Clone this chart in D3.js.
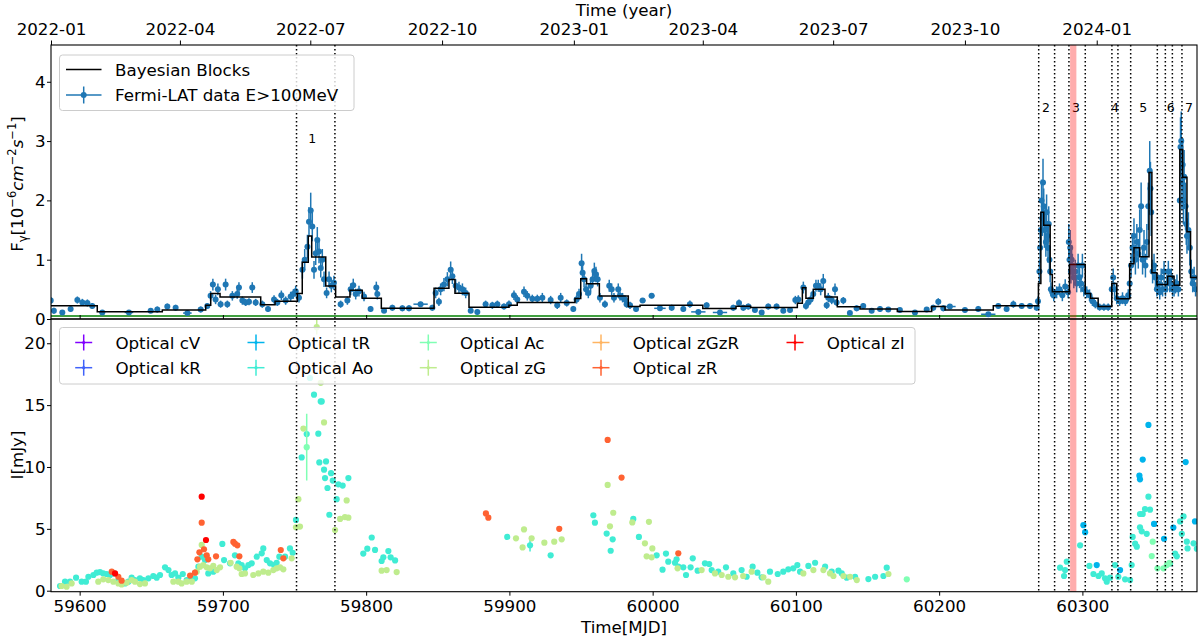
<!DOCTYPE html>
<html><head><meta charset="utf-8">
<script src="https://cdn.jsdelivr.net/npm/d3@7"></script>
<style>body{margin:0;background:#fff}text{font-family:"DejaVu Sans",sans-serif;fill:#000}</style>
</head><body><svg id="c" width="1200" height="638"></svg>
<script>
// ---------- DATA ----------
const xDomain = [59580, 60380];
const fluxTicks = [0, 1, 2, 3, 4];
const optTicks = [0, 5, 10, 15, 20];
const mjdTicks = [59600, 59700, 59800, 59900, 60000, 60100, 60200, 60300];
const yearTickDates = ["2022-01-01","2022-04-01","2022-07-01","2022-10-01","2023-01-01","2023-04-01","2023-07-01","2023-10-01","2024-01-01"];
const flareLines = [59751.4, 59778.2, 60269.5, 60280.6, 60290.6, 60302, 60320.6, 60324.8, 60333.7, 60352.3, 60357.9, 60362.8, 60369.5];
const flareBand = [60291.4, 60295.8];
const flareLabels = [["1",59762.3,3.05],["2",60274.6,3.56],["3",60295.5,3.56],["4",60322.7,3.56],["5",60342.4,3.56],["6",60361.6,3.56],["7",60374.4,3.56]];
const baselineFlux = 0.05;
// Fermi-LAT: [MJD, flux, err, xerr(days)]
const fermi = [
[59579.8,0.31,0.06],[59582,0.14,0.05],[59587.9,0.11,0.04],[59593.7,0.17,0.05],[59598.4,0.32,0.06],[59601.9,0.28,0.06],[59605.4,0.27,0.06],[59608.8,0.22,0.05],[59615.8,0.11,0.04,2],[59634.4,0.11,0.04,3],[59649.6,0.14,0.04,2],[59654.2,0.16,0.05],[59661.2,0.21,0.05],[59667,0.19,0.05],[59675.2,0.10,0.04,3],[59684.5,0.16,0.05],[59689.1,0.22,0.05],[59691.4,0.39,0.08],[59693,0.58,0.1],[59694.9,0.33,0.08],[59696.5,0.5,0.1],[59698.4,0.25,0.06],[59701.9,0.58,0.1],[59703.1,0.25,0.06],[59706.6,0.39,0.08],[59710,0.42,0.08],[59711.2,0.53,0.09],[59713.6,0.31,0.07],[59715.9,0.28,0.06],[59718.2,0.29,0.06],[59720.5,0.53,0.09],[59722.9,0.28,0.06],[59727.5,0.25,0.06],[59731.5,0.17,0.05],[59735.7,0.33,0.07],[59738,0.28,0.06],[59740.8,0.4,0.08],[59743.8,0.31,0.07],[59747.3,0.38,0.08],[59749.2,0.42,0.08],[59750.8,0.47,0.09],[59753.1,0.36,0.08],[59755.5,0.83,0.15],[59757.1,1.0,0.18],[59759,1.22,0.2],[59760.1,1.64,0.25],[59761.3,1.83,0.3],[59762.4,1.56,0.25],[59763.6,0.83,0.15],[59764.8,1.11,0.2],[59765.9,1.33,0.22],[59767.1,1.14,0.2],[59768.3,0.86,0.16],[59769.4,1.0,0.18],[59770.6,0.67,0.13],[59772.4,0.44,0.09],[59774.1,0.67,0.13],[59775.7,0.56,0.11],[59777.5,0.61,0.12],[59782.2,0.25,0.06],[59786.9,0.31,0.07],[59789.2,0.5,0.1],[59791,0.57,0.11],[59792.7,0.42,0.09],[59795,0.47,0.09],[59798.5,0.38,0.08],[59803.1,0.17,0.05],[59807.1,0.53,0.1],[59807.8,0.42,0.09],[59812.5,0.14,0.04],[59818.3,0.19,0.05],[59825.3,0.18,0.05],[59829.9,0.18,0.05],[59838,0.25,0.04,5],[59846.2,0.19,0.05],[59848.5,0.44,0.09],[59850.8,0.29,0.07],[59852,0.5,0.1],[59854.3,0.58,0.11],[59856.7,0.67,0.12],[59859,0.83,0.14],[59860.2,0.72,0.13],[59862.5,0.56,0.11],[59864.8,0.53,0.1],[59867.2,0.5,0.1],[59869.5,0.44,0.09],[59873,0.14,0.04],[59877.6,0.12,0.04],[59883.4,0.25,0.06],[59888.1,0.23,0.06],[59891.6,0.25,0.06],[59896.2,0.21,0.05],[59899.7,0.25,0.06],[59903.2,0.4,0.08],[59905.5,0.33,0.07],[59910.2,0.46,0.09],[59912.5,0.39,0.08],[59916,0.34,0.07],[59919.5,0.34,0.07],[59923,0.36,0.08],[59928.8,0.32,0.07],[59933.4,0.23,0.06],[59935.8,0.36,0.08],[59940,0.27,0.06],[59944.6,0.17,0.05],[59946.9,0.33,0.07],[59948.6,0.42,0.09],[59950.4,0.94,0.16],[59951.1,0.78,0.14],[59952.1,0.67,0.13],[59953.5,0.5,0.1],[59955.1,0.44,0.09],[59956.7,0.56,0.11],[59958.1,0.67,0.12],[59959.3,0.81,0.14],[59960.4,0.75,0.13],[59961.6,0.67,0.12],[59963.2,0.36,0.08],[59966.7,0.25,0.06],[59969.7,0.56,0.1],[59971.4,0.5,0.1],[59973,0.36,0.08],[59976,0.5,0.1],[59977.2,0.39,0.08],[59979,0.36,0.08],[59980.7,0.33,0.07],[59981.8,0.25,0.06],[59984.2,0.23,0.06],[59988.4,0.17,0.05],[59993,0.31,0.04,2],[59999.3,0.39,0.04,2],[60005.1,0.18,0.04,4],[60013.3,0.19,0.05],[60021.4,0.17,0.05],[60026,0.25,0.06],[60031.9,0.12,0.03,5],[60037.7,0.23,0.05],[60047,0.11,0.03,5],[60056.3,0.19,0.05],[60060.3,0.27,0.06],[60063.3,0.19,0.05],[60066.8,0.21,0.05],[60071.4,0.15,0.04],[60076.1,0.11,0.04],[60080.7,0.21,0.05],[60086.5,0.21,0.05],[60091.2,0.14,0.04],[60095.9,0.15,0.04],[60099.6,0.32,0.07],[60101.7,0.33,0.07],[60105.2,0.53,0.1],[60107,0.22,0.06],[60108.6,0.28,0.06],[60110.3,0.33,0.07],[60112.1,0.42,0.08],[60114,0.56,0.1],[60115.6,0.56,0.1],[60117.3,0.5,0.1],[60119.1,0.64,0.12],[60121.5,0.23,0.06],[60122.6,0.36,0.08],[60125,0.32,0.07],[60127.3,0.5,0.1],[60128.4,0.28,0.06],[60133.1,0.31,0.06],[60137.7,0.1,0.04],[60142.4,0.18,0.05],[60147,0.22,0.05],[60152.9,0.14,0.04],[60158.7,0.17,0.05],[60164.5,0.16,0.04],[60172.6,0.15,0.04],[60183.1,0.11,0.04],[60191.3,0.16,0.04],[60195.9,0.19,0.05],[60199.4,0.29,0.06],[60202.9,0.18,0.05],[60207.5,0.21,0.04,4],[60218,0.15,0.04],[60227.3,0.17,0.05],[60234.3,0.08,0.03,5],[60241.3,0.22,0.05],[60247.1,0.17,0.05],[60251.8,0.25,0.06],[60257.6,0.22,0.05],[60263.4,0.22,0.05],[60268.1,0.19,0.05],
[60269,0.3,0.08],[60270,0.8,0.2],[60270.5,1.2,0.25],[60271,1.5,0.3],[60271.5,2.0,0.35],[60272,1.7,0.3],[60272.5,2.3,0.4],[60273,1.9,0.3],[60273.5,1.5,0.3],[60274,1.6,0.3],[60274.5,1.3,0.25],[60275,1.8,0.3],[60275.5,1.4,0.25],[60276,1.2,0.25],[60276.5,1.6,0.3],[60277,1.0,0.2],[60277.5,0.8,0.18],[60278,0.5,0.12],[60279,0.45,0.1],[60280,0.4,0.1],
[60282,0.45,0.1],[60284,0.5,0.1],[60286,0.4,0.1],[60288,0.55,0.12],[60290,0.45,0.1],
[60290.5,1.3,0.3],[60291,1.0,0.25],[60291.5,1.2,0.3],[60292,0.8,0.2],[60292.5,1.0,0.25],[60293,0.9,0.2],[60294,0.7,0.18],[60295,0.8,0.2],[60296,0.6,0.15],[60297,0.9,0.2],[60298,0.7,0.18],[60299,0.6,0.15],[60300,0.9,0.2],[60301,0.5,0.12],
[60303,0.45,0.1],[60305,0.4,0.1],[60307,0.3,0.08],[60309,0.25,0.07],[60312,0.2,0.06],[60315,0.2,0.06],[60318,0.2,0.06],
[60320.5,0.5,0.12],[60321.5,0.7,0.15],[60322.5,0.5,0.12],[60324,0.35,0.1],[60326,0.3,0.08],[60328,0.35,0.1],[60330,0.3,0.08],[60332,0.4,0.1],
[60333,0.6,0.15],[60334,0.9,0.2],[60335,1.2,0.25],[60336,1.4,0.3],[60337,1.0,0.25],[60338,1.3,0.3],[60339,1.1,0.25],[60340,1.5,0.35],[60341,1.9,0.4],[60342,1.0,0.25],[60343,1.2,0.3],[60344,0.9,0.2],[60345,1.3,0.3],[60346,1.9,0.4],[60347,2.5,0.5],[60347.5,2.2,0.45],[60348,1.8,0.4],[60349,0.8,0.2],[60350,0.9,0.2],[60351,0.7,0.18],
[60352,0.5,0.12],[60353,0.6,0.15],[60354,0.45,0.12],[60355,0.7,0.15],[60356,0.5,0.12],[60357,0.8,0.18],[60358,0.5,0.12],[60359,0.6,0.15],[60360,0.8,0.18],[60361,0.6,0.15],[60362,0.7,0.15],[60363,0.5,0.12],[60364,0.5,0.12],[60365,0.55,0.12],[60366,0.6,0.15],[60367,0.5,0.12],
[60368,2.0,0.4],[60368.5,2.9,0.5],[60369,3.0,0.5],[60369.5,2.3,0.45],[60370,2.6,0.45],[60370.5,2.0,0.4],[60371,2.4,0.45],[60372,1.9,0.4],[60372.5,1.6,0.35],[60373,1.4,0.3],[60374,1.5,0.3],[60375,1.2,0.3],[60376,0.8,0.2],[60377,0.6,0.15],[60378,0.7,0.18],[60379,0.5,0.12]
];
// Bayesian blocks: edges (MJD) and levels
const bbEdges = [59580,59612.3,59657.7,59688,59691.5,59698,59726.4,59736.4,59752,59755.4,59759.6,59762,59771.8,59778.7,59788.7,59797.3,59810.6,59847.4,59857.8,59862,59871.8,59899.7,59905.5,59945.8,59949.8,59953.9,59962.8,59983,59991.2,60035,60058.2,60068.4,60101,60104.5,60107,60112.2,60120.3,60128.9,60144.8,60170.8,60194.8,60204.1,60237.8,60269.3,60271,60273,60277.5,60279,60291,60302,60305.7,60311,60320.5,60324,60333,60336,60340,60346.5,60348.5,60352,60359.5,60364,60368,60370,60373,60375.5,60380];
const bbLevels = [0.222,0.122,0.15,0.233,0.428,0.372,0.239,0.3,0.428,0.956,1.4,1.044,0.556,0.372,0.483,0.35,0.183,0.517,0.667,0.433,0.2,0.233,0.28,0.344,0.678,0.594,0.389,0.211,0.233,0.178,0.217,0.194,0.267,0.528,0.35,0.5,0.372,0.206,0.167,0.128,0.211,0.15,0.222,0.6,1.8,1.58,0.75,0.46,0.92,0.43,0.35,0.21,0.6,0.34,0.93,1.2,1.05,2.47,0.78,0.58,0.72,0.57,2.86,2.39,1.47,0.7];

// Optical bands: [MJD, mJy, err]
const optNames = ["cV","kR","tR","Ao","Ac","zG","zGzR","zR","zI"];
const opt_cV = [];
const opt_kR = [];
const opt_tR = [[60300.7,5.3],[60301.9,4.73],[60310,2.07],[60326.3,1.67],[60346.1,13.4],[60342.1,10.6],[60340.2,9.0],[60339.8,9.3],[60350,5.4],[60357,4.2],[60363.5,5.1],[60372.1,10.4],[60378.6,5.6]];
const opt_Ao = [[59586.3,0.38],[59589.8,0.73],[59593.3,0.73],[59597.5,1.05],[59601.4,0.73],[59604.4,0.73],[59606.1,1.13],[59609.6,1.27],[59611.9,1.46],[59614.2,1.51],[59616.5,1.4],[59618.9,1.35],[59621.2,1.27],[59624,1.4],[59627,0.86],[59631.7,0.59],[59634,0.73],[59636.3,1.05],[59638.6,0.86],[59642.1,1.0],[59644.5,0.86],[59648,1.0],[59651.4,1.19],[59653.8,1.05],[59656.1,1.27],[59659.6,1.89],[59662,1.67],[59664.2,1.27],[59666.6,1.4],[59668.9,1.05],[59672,1.35],[59674.7,0.86],[59677.5,1.0],[59680.5,1.0],[59682.9,1.94],[59685.2,2.75],[59687.5,2.48],[59689.8,1.4],[59693.3,1.54],[59699.6,3.78],[59700.8,2.48],[59705,2.21],[59708.4,2.86],[59710.8,2.21],[59713.1,2.07],[59715.4,1.81],[59717.8,2.07],[59720.1,2.21],[59723.6,2.75],[59727.1,3.02],[59728.2,3.42],[59730.6,2.48],[59732.9,2.21],[59735.7,2.07],[59737.5,2.26],[59739.4,2.75],[59743.4,2.75],[59746.8,3.42],[59748.7,3.07],[59751,5.72],[59755,10.77],[59758.5,12.66],[59760.8,17.19],[59763.6,15.84],[59766.6,12.69],[59767.3,10.37],[59768.3,15.3],[59769,15.3],[59770.6,9.78],[59771.3,9.1],[59772,10.45],[59773,8.3],[59774.3,6.14],[59775.5,9.5],[59776.7,8.9],[59779.4,7.4],[59780.6,8.6],[59783.6,8.5],[59787.6,9.1],[59798,3.0],[59800.8,3.4],[59803.9,4.3],[59806.2,3.3],[59810.8,2.4],[59812,2.7],[59815.5,3.2],[59817.1,2.7],[59820.2,2.45],
[59898.5,4.35],[59914.4,3.67,0.5],[59928.8,2.86],[59958.6,6.1],[59959.7,5.5],[59967.9,4.62],[59972.1,4.15],[59970.7,3.23],[59986.5,5.8],[59990.4,4.35],[60002.8,2.86],[60006.9,1.7],[60009.3,3.0],[60010.9,2.35],[60015.6,2.26],[60016.7,2.54],[60017.9,1.94],[60021.4,1.89],[60023.3,1.27],[60028,2.62],[60026.5,1.89],[60031.4,1.62],[60036.5,2.21],[60039.5,2.16],[60041.2,1.67],[60045.8,1.54],[60051.2,1.89],[60056.3,1.4],[60062.1,1.67],[60065.6,1.13],[60069.8,1.94],[60073.1,1.46],[60076.1,1.08],[60081.9,1.54],[60087.3,1.35],[60091.2,1.54],[60094.7,1.73],[60098.2,1.81],[60101,2.07],
[60102.9,1.54],[60108.7,2.0],[60113.4,2.26],[60120.4,1.94],[60125,1.54],[60129.7,1.62],[60132,1.4],[60135.5,1.05],[60141.3,1.13],[60150.6,0.94],[60155.3,1.13],[60161.1,1.19],[60163.4,1.86],
[60284.4,1.86],[60287.2,1.19],[60289.1,2.35],[60287.9,1.67],[60298.4,3.67],[60304.9,2.0],[60307.7,1.35],[60311.2,1.19],[60313.5,1.4],[60315.8,1.0],[60317,0.73],[60319.3,1.05],[60322.8,2.07],[60325.1,1.13],[60329.8,0.92],[60333.3,0.86],[60334.4,2.07],[60335.1,4.35],[60336.8,3.8],[60338,3.56],[60340.2,5.13],[60340.2,6.2],[60342.1,6.2],[60343.7,6.6],[60346.1,7.6],[60347.2,6.55],[60341.4,4.8],[60344.9,4.6],[60361.2,2.2],[60364.7,3.0],[60365.9,2.78],[60368.2,5.6],[60370.6,6.0],[60369.4,4.6],[60372.9,3.96],[60373.4,3.42],[60377.6,3.83],[60379.9,3.4]];
const opt_Ac = [[59758.5,11.6,2.7],[60177.4,0.92],[60348.4,2.8],[60349.1,3.96],[60352.4,1.81],[60356.6,1.81],[60358.9,2.07],[60360.8,2.26]];
const opt_zG = [[59587.4,0.38],[59590.9,0.32],[59594.4,0.59],[59613,0.73],[59616.5,0.92],[59620,0.86],[59623.5,0.73],[59627,0.59],[59629.3,0.51],[59632.8,0.65],[59636.3,0.86],[59638.6,0.73],[59642.1,0.54],[59645.6,0.59],[59665.4,0.73],[59668.9,0.73],[59671.2,0.59],[59674.7,0.73],[59678.3,0.73],[59681.7,1.54],[59684,1.94],[59685.2,3.7],[59686.3,2.07],[59688.7,1.89],[59691,1.81],[59693.3,2.0],[59695.7,1.67],[59698,1.89],[59705.4,2.26],[59709.6,1.94],[59711.5,1.81],[59713.1,1.35],[59715.4,1.4],[59721.2,1.27],[59724.8,1.4],[59728.2,1.54],[59731.7,1.46],[59735.2,1.67],[59737.5,1.81],[59739.9,1.89],[59742.2,1.73],[59748,2.62],[59751,5.13],[59752.7,7.4],[59753.8,5.18],[59756.2,13.1],[59765.5,21.3,0.6],[59768.3,16.8],[59770.6,13.6],[59778.3,4.9],[59781.8,5.8],[59785.2,5.95],[59786.4,7.3],[59787.6,5.9],[59810.8,1.62],[59814.3,1.67],[59821.3,1.51],
[59904.6,4.23],[59910.2,4.95],[59909.2,3.5],[59915.5,4.23],[59924.4,3.88],[59931.3,3.96],[59936.5,4.15],[59968.6,8.55],[59970.2,5.2],[59972.5,6.3],[59985.8,5.52],[59997.4,5.57],[59994.6,3.83],[59999.8,3.42],[59995.8,2.78],[59999.3,2.7],[60017.4,1.81],[60034.2,1.67],[60043.5,1.4],[60048.2,1.27],[60052.8,1.13],[60057.5,1.08],[60063.2,1.19],[60069.1,1.54],[60077.3,1.08],[60080.7,0.73],
[60105.2,1.4],[60112.2,1.67],[60119.2,1.67],[60123.8,1.4],[60126.2,1.19],[60133.2,1.19],[60137.8,1.13],[60142.5,0.86],[60164.6,1.35]];
const opt_zGzR = [];
const opt_zR = [[59622.4,1.54],[59627,1.13],[59629.3,0.81],[59677.1,1.22],[59680.5,1.46],[59682.2,2.54],[59683.6,3.1],[59685.2,5.5],[59686.8,3.35],[59688.7,2.86],[59689.8,2.54],[59695.2,2.78],[59707.3,3.94],[59708.4,3.8],[59710.1,3.67],[59711.5,2.78],[59740.4,3.29],[59742.2,2.62],[59883.6,6.25],[59885.3,5.9],[59934.8,5.0],[59968.6,12.19],[59978.3,9.14],[60017.9,3.02]];
const opt_zI = [[59624.7,1.4],[59685.2,7.6],[59688.2,4.1]];
const optSeries = [opt_cV, opt_kR, opt_tR, opt_Ao, opt_Ac, opt_zG, opt_zGzR, opt_zR, opt_zI];

// ---------- DRAW ----------
const svg = d3.select("#c");
const L = 51, R = 1197, T1 = 45, B1 = 319, T2 = 319, B2 = 591.7;
const FS = 16.7;
const x = d3.scaleLinear().domain(xDomain).range([L, R]);
const yF = d3.scaleLinear().domain([0, 4.62]).range([B1, T1]);
const yI = d3.scaleLinear().domain([-0.08, 21.96]).range([B2, T2]);
const rainbow = t => { const r = Math.min(1, Math.abs(2*t - 0.5)), g = Math.sin(Math.PI*t), b = Math.cos(Math.PI*t/2);
  return d3.rgb(r*255, g*255, b*255).formatHex(); };
const colors = optNames.map((d, i) => rainbow(i/(optNames.length-1)));
const blue = "#1f77b4";

const defs = svg.append("defs");
defs.append("clipPath").attr("id","c1").append("rect").attr("x",L).attr("y",T1).attr("width",R-L).attr("height",B1-T1);
defs.append("clipPath").attr("id","c2").append("rect").attr("x",L).attr("y",T2).attr("width",R-L).attr("height",B2-T2);

// ---- top panel ----
const g1 = svg.append("g").attr("clip-path","url(#c1)");
g1.append("line").attr("x1",L).attr("x2",R).attr("y1",yF(baselineFlux)).attr("y2",yF(baselineFlux)).attr("stroke","green").attr("stroke-width",1.5);
const fe = g1.append("g");
fermi.forEach(d => {
  const cx = x(d[0]), cy = yF(d[1]);
  fe.append("line").attr("x1",cx).attr("x2",cx).attr("y1",yF(d[1]-d[2])).attr("y2",yF(d[1]+d[2])).attr("stroke",blue).attr("stroke-width",1.5);
  const xe = d[3] || 0.5;
  fe.append("line").attr("x1",x(d[0]-xe)).attr("x2",x(d[0]+xe)).attr("y1",cy).attr("y2",cy).attr("stroke",blue).attr("stroke-width",1.5);
});
fe.selectAll("circle").data(fermi).join("circle").attr("cx",d=>x(d[0])).attr("cy",d=>yF(d[1])).attr("r",3).attr("fill",blue);
let p = `M${x(bbEdges[0])},${yF(bbLevels[0])}`;
bbLevels.forEach((v,i) => { if (i>0) p += `V${yF(v)}`; p += `H${x(bbEdges[i+1])}`; });
g1.append("path").attr("d",p).attr("fill","none").attr("stroke","#000").attr("stroke-width",1.5);
flareLabels.forEach(d => svg.append("text").attr("x",x(d[1])).attr("y",yF(d[2])).attr("dy","0.36em").attr("text-anchor","middle").attr("font-size",12.5).text(d[0]));

// ---- bottom panel ----
const g2 = svg.append("g").attr("clip-path","url(#c2)");
optSeries.forEach((s, i) => {
  const gg = g2.append("g");
  s.filter(d => d[2]).forEach(d => gg.append("line").attr("x1",x(d[0])).attr("x2",x(d[0])).attr("y1",yI(d[1]-d[2])).attr("y2",yI(d[1]+d[2])).attr("stroke",colors[i]).attr("stroke-width",1.5));
  gg.selectAll("circle").data(s).join("circle").attr("cx",d=>x(d[0])).attr("cy",d=>yI(d[1])).attr("r",3.1).attr("fill",colors[i]);
});

// flare markers
svg.append("rect").attr("x",x(flareBand[0])).attr("y",T1).attr("width",x(flareBand[1])-x(flareBand[0])).attr("height",B2-T1).attr("fill","#ff0000").attr("opacity",0.32);
flareLines.forEach(m => svg.append("line").attr("x1",x(m)).attr("x2",x(m)).attr("y1",T1).attr("y2",B2).attr("stroke","#000").attr("stroke-width",1.5).attr("stroke-dasharray","1.5,2.5"));

// ---- axes ----
function styleAxis(g){ g.selectAll("text").attr("font-size",FS).attr("font-family","DejaVu Sans").attr("fill","#000"); g.selectAll("line").attr("stroke","#000").attr("stroke-width",1); g.select(".domain").remove(); }
svg.append("g").attr("transform",`translate(${L},0)`).call(d3.axisLeft(yF).tickValues(fluxTicks).tickFormat(d3.format("d")).tickSize(4).tickPadding(1.5)).call(styleAxis);
svg.append("g").attr("transform",`translate(${L},0)`).call(d3.axisLeft(yI).tickValues(optTicks).tickFormat(d3.format("d")).tickSize(4).tickPadding(1.5)).call(styleAxis);
svg.append("g").attr("transform",`translate(0,${B2})`).call(d3.axisBottom(x).tickValues(mjdTicks).tickFormat(d3.format("d")).tickSize(4).tickPadding(4)).call(styleAxis);
// inner ticks at panel boundary
svg.append("g").attr("transform",`translate(0,${B1})`).call(d3.axisTop(x).tickValues(mjdTicks).tickFormat("").tickSize(4)).call(styleAxis);
// top date axis
const toMJD = s => Date.parse(s+"T00:00:00Z")/864e5 + 40587;
svg.append("g").attr("transform",`translate(0,${T1})`).call(d3.axisTop(x).tickValues(yearTickDates.map(toMJD)).tickFormat((d,i)=>yearTickDates[i].slice(0,7)).tickSize(4.5).tickPadding(6)).call(styleAxis);
// spines
[[T1,B1],[T2,B2]].forEach(([a,b]) => svg.append("rect").attr("x",L).attr("y",a).attr("width",R-L).attr("height",b-a).attr("fill","none").attr("stroke","#000").attr("stroke-width",1.1));

// labels
svg.append("text").attr("x",(L+R)/2).attr("y",15.5).attr("text-anchor","middle").attr("font-size",FS).text("Time (year)");
svg.append("text").attr("x",(L+R)/2).attr("y",633).attr("text-anchor","middle").attr("font-size",FS).text("Time[MJD]");
const yl = svg.append("text").attr("transform","translate(23,184) rotate(-90)").attr("text-anchor","middle").attr("font-size",FS);
yl.append("tspan").text("F");
yl.append("tspan").attr("dy",4).attr("font-size",11.5).text("γ");
yl.append("tspan").attr("dy",-4).text("[10");
yl.append("tspan").attr("dy",-7).attr("font-size",11.5).text("−6");
yl.append("tspan").attr("dy",7).attr("font-style","italic").text("cm");
yl.append("tspan").attr("dy",-7).attr("font-size",11.5).text("−2");
yl.append("tspan").attr("dy",7).attr("font-style","italic").text("s");
yl.append("tspan").attr("dy",-7).attr("font-size",11.5).text("−1");
yl.append("tspan").attr("dy",7).text("]");
svg.append("text").attr("transform","translate(23,455) rotate(-90)").attr("text-anchor","middle").attr("font-size",FS).text("I[mJy]");

// ---- legends ----
function legendBox(x0,y0,w,h){ svg.append("rect").attr("x",x0).attr("y",y0).attr("width",w).attr("height",h).attr("rx",3).attr("fill","#fff").attr("fill-opacity",0.8).attr("stroke","#cccccc").attr("stroke-width",1); }
legendBox(59.5,55,294.5,55.5);
svg.append("line").attr("x1",66).attr("x2",101.5).attr("y1",69.5).attr("y2",69.5).attr("stroke","#000").attr("stroke-width",1.5);
svg.append("text").attr("x",115).attr("y",69.5).attr("dy","0.36em").attr("font-size",FS).text("Bayesian Blocks");
svg.append("line").attr("x1",66).attr("x2",101.5).attr("y1",95).attr("y2",95).attr("stroke",blue).attr("stroke-width",1.5);
svg.append("line").attr("x1",83.7).attr("x2",83.7).attr("y1",86.5).attr("y2",103.5).attr("stroke",blue).attr("stroke-width",1.5);
svg.append("circle").attr("cx",83.7).attr("cy",95).attr("r",3).attr("fill",blue);
svg.append("text").attr("x",115).attr("y",95).attr("dy","0.36em").attr("font-size",FS).text("Fermi-LAT data E>100MeV");

legendBox(59.5,327.5,855.5,56.5);
const colHandle = [83.7, 256, 428.3, 601, 795];
const rowY = [342.5, 367.7];
optNames.forEach((n,i) => {
  const c = Math.floor(i/2), r = i%2, hx = colHandle[c], hy = rowY[r];
  svg.append("line").attr("x1",hx-8.5).attr("x2",hx+8.5).attr("y1",hy).attr("y2",hy).attr("stroke",colors[i]).attr("stroke-width",1.5);
  svg.append("line").attr("x1",hx).attr("x2",hx).attr("y1",hy-8).attr("y2",hy+8).attr("stroke",colors[i]).attr("stroke-width",1.5);
  svg.append("circle").attr("cx",hx).attr("cy",hy).attr("r",1.6).attr("fill",colors[i]);
  svg.append("text").attr("x",hx+31.7).attr("y",hy).attr("dy","0.36em").attr("font-size",FS).text("Optical "+n);
});
</script></body></html>
